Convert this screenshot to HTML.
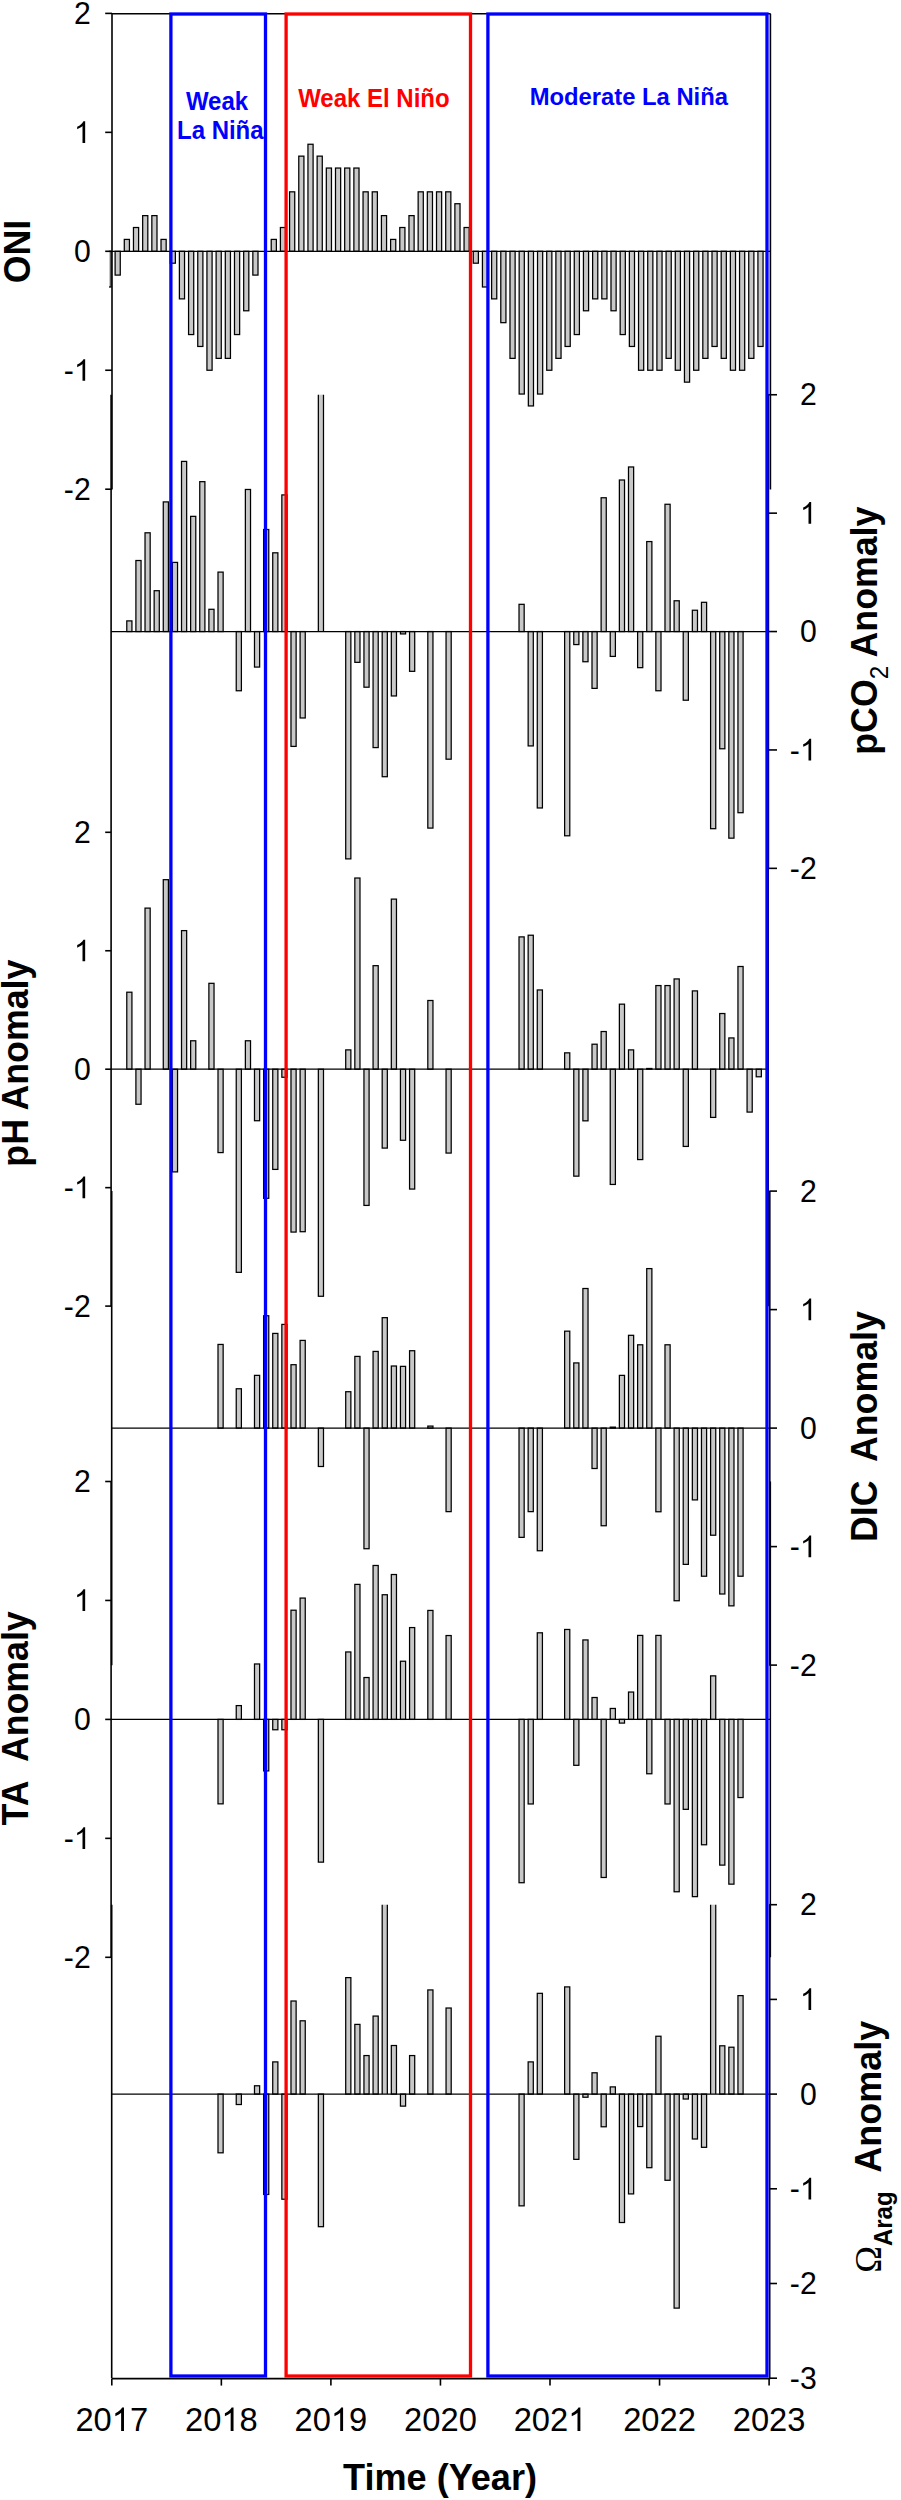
<!DOCTYPE html>
<html><head><meta charset="utf-8"><title>ENSO anomalies</title>
<style>html,body{margin:0;padding:0;background:#fff;}body{width:901px;height:2500px;overflow:hidden;}svg{display:block;}</style>
</head><body>
<svg width="901" height="2500" viewBox="0 0 901 2500">
<rect width="901" height="2500" fill="#fff"/>
<defs><clipPath id="c1"><rect x="109" y="0" width="700" height="2500"/></clipPath></defs>
<g fill="#c8c8c8" stroke="#000" stroke-width="1.25" clip-path="url(#c1)">
<rect x="105.92" y="251.30" width="5.15" height="35.69"/>
<rect x="115.11" y="251.30" width="5.15" height="23.79"/>
<rect x="124.29" y="239.41" width="5.15" height="11.90"/>
<rect x="133.47" y="227.51" width="5.15" height="23.79"/>
<rect x="142.66" y="215.62" width="5.15" height="35.69"/>
<rect x="151.84" y="215.62" width="5.15" height="35.69"/>
<rect x="161.02" y="239.41" width="5.15" height="11.90"/>
<rect x="170.21" y="251.30" width="5.15" height="11.89"/>
<rect x="179.39" y="251.30" width="5.15" height="47.58"/>
<rect x="188.57" y="251.30" width="5.15" height="83.26"/>
<rect x="197.75" y="251.30" width="5.15" height="95.16"/>
<rect x="206.94" y="251.30" width="5.15" height="118.95"/>
<rect x="216.12" y="251.30" width="5.15" height="107.06"/>
<rect x="225.30" y="251.30" width="5.15" height="107.06"/>
<rect x="234.49" y="251.30" width="5.15" height="83.26"/>
<rect x="243.67" y="251.30" width="5.15" height="59.48"/>
<rect x="252.85" y="251.30" width="5.15" height="23.79"/>
<rect x="271.22" y="239.41" width="5.15" height="11.90"/>
<rect x="280.40" y="227.51" width="5.15" height="23.79"/>
<rect x="289.58" y="191.83" width="5.15" height="59.47"/>
<rect x="298.77" y="156.14" width="5.15" height="95.16"/>
<rect x="307.95" y="144.25" width="5.15" height="107.06"/>
<rect x="317.13" y="156.14" width="5.15" height="95.16"/>
<rect x="326.32" y="168.04" width="5.15" height="83.26"/>
<rect x="335.50" y="168.04" width="5.15" height="83.26"/>
<rect x="344.68" y="168.04" width="5.15" height="83.26"/>
<rect x="353.87" y="168.04" width="5.15" height="83.26"/>
<rect x="363.05" y="191.83" width="5.15" height="59.47"/>
<rect x="372.23" y="191.83" width="5.15" height="59.47"/>
<rect x="381.42" y="215.62" width="5.15" height="35.69"/>
<rect x="390.60" y="239.41" width="5.15" height="11.90"/>
<rect x="399.78" y="227.51" width="5.15" height="23.79"/>
<rect x="408.96" y="215.62" width="5.15" height="35.69"/>
<rect x="418.15" y="191.83" width="5.15" height="59.47"/>
<rect x="427.33" y="191.83" width="5.15" height="59.47"/>
<rect x="436.51" y="191.83" width="5.15" height="59.47"/>
<rect x="445.70" y="191.83" width="5.15" height="59.47"/>
<rect x="454.88" y="203.72" width="5.15" height="47.58"/>
<rect x="464.06" y="227.51" width="5.15" height="23.79"/>
<rect x="473.25" y="251.30" width="5.15" height="11.89"/>
<rect x="482.43" y="251.30" width="5.15" height="35.69"/>
<rect x="491.61" y="251.30" width="5.15" height="47.58"/>
<rect x="500.79" y="251.30" width="5.15" height="71.37"/>
<rect x="509.98" y="251.30" width="5.15" height="107.06"/>
<rect x="519.16" y="251.30" width="5.15" height="142.74"/>
<rect x="528.34" y="251.30" width="5.15" height="154.64"/>
<rect x="537.53" y="251.30" width="5.15" height="142.74"/>
<rect x="546.71" y="251.30" width="5.15" height="118.95"/>
<rect x="555.89" y="251.30" width="5.15" height="107.06"/>
<rect x="565.07" y="251.30" width="5.15" height="95.16"/>
<rect x="574.26" y="251.30" width="5.15" height="83.26"/>
<rect x="583.44" y="251.30" width="5.15" height="59.48"/>
<rect x="592.62" y="251.30" width="5.15" height="47.58"/>
<rect x="601.81" y="251.30" width="5.15" height="47.58"/>
<rect x="610.99" y="251.30" width="5.15" height="59.48"/>
<rect x="620.17" y="251.30" width="5.15" height="83.26"/>
<rect x="629.36" y="251.30" width="5.15" height="95.16"/>
<rect x="638.54" y="251.30" width="5.15" height="118.95"/>
<rect x="647.72" y="251.30" width="5.15" height="118.95"/>
<rect x="656.90" y="251.30" width="5.15" height="118.95"/>
<rect x="666.09" y="251.30" width="5.15" height="107.06"/>
<rect x="675.27" y="251.30" width="5.15" height="118.95"/>
<rect x="684.45" y="251.30" width="5.15" height="130.85"/>
<rect x="693.64" y="251.30" width="5.15" height="118.95"/>
<rect x="702.82" y="251.30" width="5.15" height="107.06"/>
<rect x="712.00" y="251.30" width="5.15" height="95.16"/>
<rect x="721.19" y="251.30" width="5.15" height="107.06"/>
<rect x="730.37" y="251.30" width="5.15" height="118.95"/>
<rect x="739.55" y="251.30" width="5.15" height="118.95"/>
<rect x="748.73" y="251.30" width="5.15" height="107.06"/>
<rect x="757.92" y="251.30" width="5.15" height="95.16"/>
</g>
<g fill="#c8c8c8" stroke="#000" stroke-width="1.25">
<rect x="126.78" y="620.89" width="5.15" height="10.66"/>
<rect x="135.90" y="560.51" width="5.15" height="71.04"/>
<rect x="145.02" y="532.80" width="5.15" height="98.75"/>
<rect x="154.15" y="590.70" width="5.15" height="40.85"/>
<rect x="163.27" y="501.90" width="5.15" height="129.65"/>
<rect x="172.39" y="562.40" width="5.15" height="69.15"/>
<rect x="181.51" y="461.41" width="5.15" height="170.14"/>
<rect x="190.63" y="516.35" width="5.15" height="115.20"/>
<rect x="199.75" y="481.66" width="5.15" height="149.89"/>
<rect x="208.88" y="609.29" width="5.15" height="22.26"/>
<rect x="218.00" y="572.11" width="5.15" height="59.44"/>
<rect x="236.24" y="631.55" width="5.15" height="59.20"/>
<rect x="245.37" y="489.47" width="5.15" height="142.08"/>
<rect x="254.49" y="631.55" width="5.15" height="35.52"/>
<rect x="263.61" y="529.49" width="5.15" height="102.06"/>
<rect x="272.73" y="552.81" width="5.15" height="78.74"/>
<rect x="281.85" y="494.92" width="5.15" height="136.63"/>
<rect x="290.98" y="631.55" width="5.15" height="114.85"/>
<rect x="300.10" y="631.55" width="5.15" height="86.43"/>
<rect x="318.34" y="394.70" width="5.15" height="236.85" fill="#c8c8c8" stroke="none"/>
<path d="M318.34 631.55V394.70M323.49 631.55V394.70" stroke="#000" stroke-width="1.25" fill="none"/>
<rect x="345.71" y="631.55" width="5.15" height="227.33"/>
<rect x="354.83" y="631.55" width="5.15" height="30.78"/>
<rect x="363.95" y="631.55" width="5.15" height="55.65"/>
<rect x="373.07" y="631.55" width="5.15" height="116.03"/>
<rect x="382.19" y="631.55" width="5.15" height="145.16"/>
<rect x="391.32" y="631.55" width="5.15" height="64.41"/>
<rect x="400.44" y="631.55" width="5.15" height="2.37"/>
<rect x="409.56" y="631.55" width="5.15" height="39.78"/>
<rect x="427.81" y="631.55" width="5.15" height="196.54"/>
<rect x="446.05" y="631.55" width="5.15" height="127.64"/>
<rect x="519.02" y="604.32" width="5.15" height="27.23"/>
<rect x="528.15" y="631.55" width="5.15" height="114.37"/>
<rect x="537.27" y="631.55" width="5.15" height="176.42"/>
<rect x="564.63" y="631.55" width="5.15" height="204.24"/>
<rect x="573.76" y="631.55" width="5.15" height="13.02"/>
<rect x="582.88" y="631.55" width="5.15" height="30.19"/>
<rect x="592.00" y="631.55" width="5.15" height="56.83"/>
<rect x="601.12" y="497.76" width="5.15" height="133.79"/>
<rect x="610.24" y="631.55" width="5.15" height="24.86"/>
<rect x="619.37" y="480.00" width="5.15" height="151.55"/>
<rect x="628.49" y="466.97" width="5.15" height="164.58"/>
<rect x="637.61" y="631.55" width="5.15" height="36.11"/>
<rect x="646.73" y="541.57" width="5.15" height="89.98"/>
<rect x="655.85" y="631.55" width="5.15" height="59.20"/>
<rect x="664.98" y="504.27" width="5.15" height="127.28"/>
<rect x="674.10" y="600.77" width="5.15" height="30.78"/>
<rect x="683.22" y="631.55" width="5.15" height="68.67"/>
<rect x="692.34" y="610.24" width="5.15" height="21.31"/>
<rect x="701.46" y="602.31" width="5.15" height="29.24"/>
<rect x="710.59" y="631.55" width="5.15" height="197.14"/>
<rect x="719.71" y="631.55" width="5.15" height="117.22"/>
<rect x="728.83" y="631.55" width="5.15" height="206.61"/>
<rect x="737.95" y="631.55" width="5.15" height="181.15"/>
<rect x="126.78" y="992.21" width="5.15" height="76.99"/>
<rect x="135.90" y="1069.20" width="5.15" height="35.06"/>
<rect x="145.02" y="908.11" width="5.15" height="161.09"/>
<rect x="163.27" y="879.68" width="5.15" height="189.52"/>
<rect x="172.39" y="1069.20" width="5.15" height="102.70"/>
<rect x="181.51" y="930.61" width="5.15" height="138.59"/>
<rect x="190.63" y="1040.77" width="5.15" height="28.43"/>
<rect x="208.88" y="983.32" width="5.15" height="85.88"/>
<rect x="218.00" y="1069.20" width="5.15" height="83.39"/>
<rect x="236.24" y="1069.20" width="5.15" height="203.14"/>
<rect x="245.37" y="1040.77" width="5.15" height="28.43"/>
<rect x="254.49" y="1069.20" width="5.15" height="51.53"/>
<rect x="263.61" y="1069.20" width="5.15" height="129.11"/>
<rect x="272.73" y="1069.20" width="5.15" height="100.21"/>
<rect x="281.85" y="1069.20" width="5.15" height="8.05"/>
<rect x="290.98" y="1069.20" width="5.15" height="162.87"/>
<rect x="300.10" y="1069.20" width="5.15" height="162.51"/>
<rect x="318.34" y="1069.20" width="5.15" height="227.07"/>
<rect x="345.71" y="1049.89" width="5.15" height="19.31"/>
<rect x="354.83" y="878.02" width="5.15" height="191.18"/>
<rect x="363.95" y="1069.20" width="5.15" height="136.22"/>
<rect x="373.07" y="965.67" width="5.15" height="103.53"/>
<rect x="382.19" y="1069.20" width="5.15" height="78.89"/>
<rect x="391.32" y="899.11" width="5.15" height="170.09"/>
<rect x="400.44" y="1069.20" width="5.15" height="71.07"/>
<rect x="409.56" y="1069.20" width="5.15" height="119.87"/>
<rect x="427.81" y="1000.50" width="5.15" height="68.70"/>
<rect x="446.05" y="1069.20" width="5.15" height="83.86"/>
<rect x="519.02" y="936.89" width="5.15" height="132.31"/>
<rect x="528.15" y="935.23" width="5.15" height="133.97"/>
<rect x="537.27" y="989.96" width="5.15" height="79.24"/>
<rect x="564.63" y="1052.85" width="5.15" height="16.35"/>
<rect x="573.76" y="1069.20" width="5.15" height="106.96"/>
<rect x="582.88" y="1069.20" width="5.15" height="51.64"/>
<rect x="592.00" y="1044.21" width="5.15" height="24.99"/>
<rect x="601.12" y="1031.53" width="5.15" height="37.67"/>
<rect x="610.24" y="1069.20" width="5.15" height="115.25"/>
<rect x="619.37" y="1004.17" width="5.15" height="65.03"/>
<rect x="628.49" y="1049.89" width="5.15" height="19.31"/>
<rect x="637.61" y="1069.20" width="5.15" height="90.38"/>
<rect x="646.73" y="1068.49" width="5.15" height="0.71"/>
<rect x="655.85" y="985.57" width="5.15" height="83.63"/>
<rect x="664.98" y="985.57" width="5.15" height="83.63"/>
<rect x="674.10" y="978.94" width="5.15" height="90.26"/>
<rect x="683.22" y="1069.20" width="5.15" height="77.23"/>
<rect x="692.34" y="990.90" width="5.15" height="78.30"/>
<rect x="710.59" y="1069.20" width="5.15" height="48.21"/>
<rect x="719.71" y="1013.53" width="5.15" height="55.67"/>
<rect x="728.83" y="1037.93" width="5.15" height="31.27"/>
<rect x="737.95" y="966.50" width="5.15" height="102.70"/>
<rect x="747.07" y="1069.20" width="5.15" height="42.88"/>
<rect x="756.20" y="1069.20" width="5.15" height="7.58"/>
<rect x="218.00" y="1344.44" width="5.15" height="83.66"/>
<rect x="236.24" y="1388.76" width="5.15" height="39.34"/>
<rect x="254.49" y="1375.37" width="5.15" height="52.73"/>
<rect x="263.61" y="1315.76" width="5.15" height="112.34"/>
<rect x="272.73" y="1333.42" width="5.15" height="94.68"/>
<rect x="281.85" y="1324.41" width="5.15" height="103.69"/>
<rect x="290.98" y="1364.70" width="5.15" height="63.40"/>
<rect x="300.10" y="1340.41" width="5.15" height="87.69"/>
<rect x="318.34" y="1428.10" width="5.15" height="38.39"/>
<rect x="345.71" y="1391.72" width="5.15" height="36.38"/>
<rect x="354.83" y="1356.41" width="5.15" height="71.69"/>
<rect x="363.95" y="1428.10" width="5.15" height="120.63"/>
<rect x="373.07" y="1351.43" width="5.15" height="76.67"/>
<rect x="382.19" y="1317.66" width="5.15" height="110.44"/>
<rect x="391.32" y="1366.01" width="5.15" height="62.09"/>
<rect x="400.44" y="1366.36" width="5.15" height="61.74"/>
<rect x="409.56" y="1350.72" width="5.15" height="77.38"/>
<rect x="427.81" y="1426.09" width="5.15" height="2.01"/>
<rect x="446.05" y="1428.10" width="5.15" height="83.54"/>
<rect x="519.02" y="1428.10" width="5.15" height="109.26"/>
<rect x="528.15" y="1428.10" width="5.15" height="83.54"/>
<rect x="537.27" y="1428.10" width="5.15" height="122.65"/>
<rect x="564.63" y="1331.17" width="5.15" height="96.93"/>
<rect x="573.76" y="1362.92" width="5.15" height="65.17"/>
<rect x="582.88" y="1288.51" width="5.15" height="139.59"/>
<rect x="592.00" y="1428.10" width="5.15" height="40.41"/>
<rect x="601.12" y="1428.10" width="5.15" height="97.64"/>
<rect x="610.24" y="1427.15" width="5.15" height="0.95"/>
<rect x="619.37" y="1375.37" width="5.15" height="52.73"/>
<rect x="628.49" y="1335.31" width="5.15" height="92.79"/>
<rect x="637.61" y="1344.79" width="5.15" height="83.31"/>
<rect x="646.73" y="1268.60" width="5.15" height="159.50"/>
<rect x="655.85" y="1428.10" width="5.15" height="83.66"/>
<rect x="664.98" y="1344.79" width="5.15" height="83.31"/>
<rect x="674.10" y="1428.10" width="5.15" height="172.65"/>
<rect x="683.22" y="1428.10" width="5.15" height="136.28"/>
<rect x="692.34" y="1428.10" width="5.15" height="71.81"/>
<rect x="701.46" y="1428.10" width="5.15" height="148.12"/>
<rect x="710.59" y="1428.10" width="5.15" height="107.12"/>
<rect x="719.71" y="1428.10" width="5.15" height="165.90"/>
<rect x="728.83" y="1428.10" width="5.15" height="177.75"/>
<rect x="737.95" y="1428.10" width="5.15" height="148.12"/>
<rect x="218.00" y="1719.40" width="5.15" height="84.45"/>
<rect x="236.24" y="1705.60" width="5.15" height="13.80"/>
<rect x="254.49" y="1663.97" width="5.15" height="55.43"/>
<rect x="263.61" y="1719.40" width="5.15" height="51.51"/>
<rect x="272.73" y="1719.40" width="5.15" height="10.35"/>
<rect x="281.85" y="1719.40" width="5.15" height="10.35"/>
<rect x="290.98" y="1610.20" width="5.15" height="109.20"/>
<rect x="300.10" y="1598.07" width="5.15" height="121.33"/>
<rect x="318.34" y="1719.40" width="5.15" height="142.74"/>
<rect x="345.71" y="1651.96" width="5.15" height="67.44"/>
<rect x="354.83" y="1584.39" width="5.15" height="135.01"/>
<rect x="363.95" y="1677.53" width="5.15" height="41.87"/>
<rect x="373.07" y="1565.48" width="5.15" height="153.92"/>
<rect x="382.19" y="1594.74" width="5.15" height="124.66"/>
<rect x="391.32" y="1574.52" width="5.15" height="144.88"/>
<rect x="400.44" y="1661.23" width="5.15" height="58.17"/>
<rect x="409.56" y="1627.57" width="5.15" height="91.83"/>
<rect x="427.81" y="1610.44" width="5.15" height="108.96"/>
<rect x="446.05" y="1635.54" width="5.15" height="83.86"/>
<rect x="519.02" y="1719.40" width="5.15" height="163.32"/>
<rect x="528.15" y="1719.40" width="5.15" height="84.57"/>
<rect x="537.27" y="1632.80" width="5.15" height="86.60"/>
<rect x="564.63" y="1629.47" width="5.15" height="89.93"/>
<rect x="573.76" y="1719.40" width="5.15" height="45.91"/>
<rect x="582.88" y="1639.94" width="5.15" height="79.46"/>
<rect x="592.00" y="1697.51" width="5.15" height="21.89"/>
<rect x="601.12" y="1719.40" width="5.15" height="158.08"/>
<rect x="610.24" y="1708.46" width="5.15" height="10.94"/>
<rect x="619.37" y="1719.40" width="5.15" height="3.69"/>
<rect x="628.49" y="1692.04" width="5.15" height="27.36"/>
<rect x="637.61" y="1635.42" width="5.15" height="83.98"/>
<rect x="646.73" y="1719.40" width="5.15" height="54.36"/>
<rect x="655.85" y="1635.42" width="5.15" height="83.98"/>
<rect x="664.98" y="1719.40" width="5.15" height="84.57"/>
<rect x="674.10" y="1719.40" width="5.15" height="172.36"/>
<rect x="683.22" y="1719.40" width="5.15" height="89.93"/>
<rect x="692.34" y="1719.40" width="5.15" height="177.24"/>
<rect x="701.46" y="1719.40" width="5.15" height="125.37"/>
<rect x="710.59" y="1675.86" width="5.15" height="43.54"/>
<rect x="719.71" y="1719.40" width="5.15" height="145.71"/>
<rect x="728.83" y="1719.40" width="5.15" height="164.75"/>
<rect x="737.95" y="1719.40" width="5.15" height="78.15"/>
<rect x="218.00" y="2094.10" width="5.15" height="58.71"/>
<rect x="236.24" y="2094.10" width="5.15" height="10.42"/>
<rect x="254.49" y="2085.77" width="5.15" height="8.33"/>
<rect x="263.61" y="2094.10" width="5.15" height="100.38"/>
<rect x="272.73" y="2061.90" width="5.15" height="32.20"/>
<rect x="281.85" y="2094.10" width="5.15" height="105.12"/>
<rect x="290.98" y="2001.01" width="5.15" height="93.09"/>
<rect x="300.10" y="2020.80" width="5.15" height="73.30"/>
<rect x="318.34" y="2094.10" width="5.15" height="132.58"/>
<rect x="345.71" y="1977.62" width="5.15" height="116.48"/>
<rect x="354.83" y="2024.40" width="5.15" height="69.70"/>
<rect x="363.95" y="2055.56" width="5.15" height="38.54"/>
<rect x="373.07" y="2016.07" width="5.15" height="78.03"/>
<rect x="382.19" y="1904.70" width="5.15" height="189.40" fill="#c8c8c8" stroke="none"/>
<path d="M382.19 2094.10V1904.70M387.34 2094.10V1904.70" stroke="#000" stroke-width="1.25" fill="none"/>
<rect x="391.32" y="2045.52" width="5.15" height="48.58"/>
<rect x="400.44" y="2094.10" width="5.15" height="12.03"/>
<rect x="409.56" y="2055.56" width="5.15" height="38.54"/>
<rect x="427.81" y="1989.93" width="5.15" height="104.17"/>
<rect x="446.05" y="2008.02" width="5.15" height="86.08"/>
<rect x="519.02" y="2094.10" width="5.15" height="111.75"/>
<rect x="528.15" y="2061.90" width="5.15" height="32.20"/>
<rect x="537.27" y="1993.34" width="5.15" height="100.76"/>
<rect x="564.63" y="1986.90" width="5.15" height="107.20"/>
<rect x="573.76" y="2094.10" width="5.15" height="65.25"/>
<rect x="582.88" y="2094.10" width="5.15" height="3.13"/>
<rect x="592.00" y="2072.79" width="5.15" height="21.31"/>
<rect x="601.12" y="2094.10" width="5.15" height="32.67"/>
<rect x="610.24" y="2086.90" width="5.15" height="7.20"/>
<rect x="619.37" y="2094.10" width="5.15" height="128.41"/>
<rect x="628.49" y="2094.10" width="5.15" height="99.81"/>
<rect x="637.61" y="2094.10" width="5.15" height="32.48"/>
<rect x="646.73" y="2094.10" width="5.15" height="73.58"/>
<rect x="655.85" y="2036.24" width="5.15" height="57.86"/>
<rect x="664.98" y="2094.10" width="5.15" height="86.18"/>
<rect x="674.10" y="2094.10" width="5.15" height="214.02"/>
<rect x="683.22" y="2094.10" width="5.15" height="4.92"/>
<rect x="692.34" y="2094.10" width="5.15" height="44.89"/>
<rect x="701.46" y="2094.10" width="5.15" height="53.22"/>
<rect x="710.59" y="1904.70" width="5.15" height="189.40" fill="#c8c8c8" stroke="none"/>
<path d="M710.59 2094.10V1904.70M715.74 2094.10V1904.70" stroke="#000" stroke-width="1.25" fill="none"/>
<rect x="719.71" y="2045.80" width="5.15" height="48.30"/>
<rect x="728.83" y="2047.22" width="5.15" height="46.88"/>
<rect x="737.95" y="1995.61" width="5.15" height="98.49"/>
</g>
<g stroke="#000" stroke-width="1.6" fill="none">
<path d="M112.0 13.7V489.5"/>
<path d="M770.4 13.7V489.5"/>
<path d="M112.0 251.3H770.4" stroke-width="1.2"/>
<path d="M105.2 13.40H112.0"/>
<path d="M105.2 132.35H112.0"/>
<path d="M105.2 251.30H112.0"/>
<path d="M105.2 370.25H112.0"/>
<path d="M105.2 489.20H112.0"/>
<path d="M111.1 394.7V1306.2"/>
<path d="M768.4 394.7V868.4"/>
<path d="M111.1 631.55H768.4" stroke-width="1.2"/>
<path d="M767.9 394.75H777"/>
<path d="M767.9 513.15H777"/>
<path d="M767.9 631.55H777"/>
<path d="M767.9 749.95H777"/>
<path d="M767.9 868.35H777"/>
<path d="M768.2 832.4V1306.2"/>
<path d="M111.1 1069.2H768.2" stroke-width="1.2"/>
<path d="M105.2 832.30H111.1"/>
<path d="M105.2 950.75H111.1"/>
<path d="M105.2 1069.20H111.1"/>
<path d="M105.2 1187.65H111.1"/>
<path d="M105.2 1306.10H111.1"/>
<path d="M111.7 1191.0V1665.2"/>
<path d="M769.8 1191.0V1665.2"/>
<path d="M111.7 1428.1H769.8" stroke-width="1.2"/>
<path d="M769.3 1191.10H777"/>
<path d="M769.3 1309.60H777"/>
<path d="M769.3 1428.10H777"/>
<path d="M769.3 1546.60H777"/>
<path d="M769.3 1665.10H777"/>
<path d="M111.1 1481.6V1957.2"/>
<path d="M770.3 1481.6V1957.2"/>
<path d="M111.1 1719.4H770.3" stroke-width="1.2"/>
<path d="M105.2 1481.50H111.1"/>
<path d="M105.2 1600.45H111.1"/>
<path d="M105.2 1719.40H111.1"/>
<path d="M105.2 1838.35H111.1"/>
<path d="M105.2 1957.30H111.1"/>
<path d="M111.7 1904.7V2378.2"/>
<path d="M769.7 1904.7V2378.2"/>
<path d="M111.7 2094.1H769.7" stroke-width="1.2"/>
<path d="M769.2 1904.70H777"/>
<path d="M769.2 1999.40H777"/>
<path d="M769.2 2094.10H777"/>
<path d="M769.2 2188.80H777"/>
<path d="M769.2 2283.50H777"/>
<path d="M769.2 2378.20H777"/>
<path d="M112.0 13.7H770.6"/>
<path d="M112.0 2378.6H770.2"/>
<path d="M111.80 2378.6V2385.6"/>
<path d="M221.35 2378.6V2385.6"/>
<path d="M330.90 2378.6V2385.6"/>
<path d="M440.45 2378.6V2385.6"/>
<path d="M550.00 2378.6V2385.6"/>
<path d="M659.55 2378.6V2385.6"/>
<path d="M769.10 2378.6V2385.6"/>
</g>
<g fill="none" stroke-width="3.3">
<rect x="170.9" y="14" width="94.6" height="2362" stroke="#0000ff"/>
<rect x="286.1" y="14" width="184.4" height="2362" stroke="#ff0000"/>
<rect x="487.9" y="14" width="279.1" height="2362" stroke="#0000ff"/>
</g>
<g font-family="Liberation Sans, sans-serif" font-size="30.2" fill="#000">
<g transform="translate(73.91 24.00)"><text transform="translate(0.00 0) scale(1 1.02)">2</text></g>
<g transform="translate(73.91 142.95)"><path transform="translate(0.00 0) scale(0.01475 -0.01475)" d="M763 0L583 0L583 1147Q518 1085 412 1023Q306 961 222 930L222 1104Q373 1175 486 1276Q599 1377 646 1472L763 1472Z"/></g>
<g transform="translate(73.91 261.90)"><text transform="translate(0.00 0) scale(1 1.02)">0</text></g>
<g transform="translate(63.85 380.85)"><text transform="translate(0.00 0) scale(1 1.02)">-</text><path transform="translate(10.06 0) scale(0.01475 -0.01475)" d="M763 0L583 0L583 1147Q518 1085 412 1023Q306 961 222 930L222 1104Q373 1175 486 1276Q599 1377 646 1472L763 1472Z"/></g>
<g transform="translate(63.85 499.80)"><text transform="translate(0.00 0) scale(1 1.02)">-</text><text transform="translate(10.06 0) scale(1 1.02)">2</text></g>
<g transform="translate(799.91 405.35)"><text transform="translate(0.00 0) scale(1 1.02)">2</text></g>
<g transform="translate(799.91 523.75)"><path transform="translate(0.00 0) scale(0.01475 -0.01475)" d="M763 0L583 0L583 1147Q518 1085 412 1023Q306 961 222 930L222 1104Q373 1175 486 1276Q599 1377 646 1472L763 1472Z"/></g>
<g transform="translate(799.91 642.15)"><text transform="translate(0.00 0) scale(1 1.02)">0</text></g>
<g transform="translate(789.85 760.55)"><text transform="translate(0.00 0) scale(1 1.02)">-</text><path transform="translate(10.06 0) scale(0.01475 -0.01475)" d="M763 0L583 0L583 1147Q518 1085 412 1023Q306 961 222 930L222 1104Q373 1175 486 1276Q599 1377 646 1472L763 1472Z"/></g>
<g transform="translate(789.85 878.95)"><text transform="translate(0.00 0) scale(1 1.02)">-</text><text transform="translate(10.06 0) scale(1 1.02)">2</text></g>
<g transform="translate(73.91 842.90)"><text transform="translate(0.00 0) scale(1 1.02)">2</text></g>
<g transform="translate(73.91 961.35)"><path transform="translate(0.00 0) scale(0.01475 -0.01475)" d="M763 0L583 0L583 1147Q518 1085 412 1023Q306 961 222 930L222 1104Q373 1175 486 1276Q599 1377 646 1472L763 1472Z"/></g>
<g transform="translate(73.91 1079.80)"><text transform="translate(0.00 0) scale(1 1.02)">0</text></g>
<g transform="translate(63.85 1198.25)"><text transform="translate(0.00 0) scale(1 1.02)">-</text><path transform="translate(10.06 0) scale(0.01475 -0.01475)" d="M763 0L583 0L583 1147Q518 1085 412 1023Q306 961 222 930L222 1104Q373 1175 486 1276Q599 1377 646 1472L763 1472Z"/></g>
<g transform="translate(63.85 1316.70)"><text transform="translate(0.00 0) scale(1 1.02)">-</text><text transform="translate(10.06 0) scale(1 1.02)">2</text></g>
<g transform="translate(799.91 1201.70)"><text transform="translate(0.00 0) scale(1 1.02)">2</text></g>
<g transform="translate(799.91 1320.20)"><path transform="translate(0.00 0) scale(0.01475 -0.01475)" d="M763 0L583 0L583 1147Q518 1085 412 1023Q306 961 222 930L222 1104Q373 1175 486 1276Q599 1377 646 1472L763 1472Z"/></g>
<g transform="translate(799.91 1438.70)"><text transform="translate(0.00 0) scale(1 1.02)">0</text></g>
<g transform="translate(789.85 1557.20)"><text transform="translate(0.00 0) scale(1 1.02)">-</text><path transform="translate(10.06 0) scale(0.01475 -0.01475)" d="M763 0L583 0L583 1147Q518 1085 412 1023Q306 961 222 930L222 1104Q373 1175 486 1276Q599 1377 646 1472L763 1472Z"/></g>
<g transform="translate(789.85 1675.70)"><text transform="translate(0.00 0) scale(1 1.02)">-</text><text transform="translate(10.06 0) scale(1 1.02)">2</text></g>
<g transform="translate(73.91 1492.10)"><text transform="translate(0.00 0) scale(1 1.02)">2</text></g>
<g transform="translate(73.91 1611.05)"><path transform="translate(0.00 0) scale(0.01475 -0.01475)" d="M763 0L583 0L583 1147Q518 1085 412 1023Q306 961 222 930L222 1104Q373 1175 486 1276Q599 1377 646 1472L763 1472Z"/></g>
<g transform="translate(73.91 1730.00)"><text transform="translate(0.00 0) scale(1 1.02)">0</text></g>
<g transform="translate(63.85 1848.95)"><text transform="translate(0.00 0) scale(1 1.02)">-</text><path transform="translate(10.06 0) scale(0.01475 -0.01475)" d="M763 0L583 0L583 1147Q518 1085 412 1023Q306 961 222 930L222 1104Q373 1175 486 1276Q599 1377 646 1472L763 1472Z"/></g>
<g transform="translate(63.85 1967.90)"><text transform="translate(0.00 0) scale(1 1.02)">-</text><text transform="translate(10.06 0) scale(1 1.02)">2</text></g>
<g transform="translate(799.91 1915.30)"><text transform="translate(0.00 0) scale(1 1.02)">2</text></g>
<g transform="translate(799.91 2010.00)"><path transform="translate(0.00 0) scale(0.01475 -0.01475)" d="M763 0L583 0L583 1147Q518 1085 412 1023Q306 961 222 930L222 1104Q373 1175 486 1276Q599 1377 646 1472L763 1472Z"/></g>
<g transform="translate(799.91 2104.70)"><text transform="translate(0.00 0) scale(1 1.02)">0</text></g>
<g transform="translate(789.85 2199.40)"><text transform="translate(0.00 0) scale(1 1.02)">-</text><path transform="translate(10.06 0) scale(0.01475 -0.01475)" d="M763 0L583 0L583 1147Q518 1085 412 1023Q306 961 222 930L222 1104Q373 1175 486 1276Q599 1377 646 1472L763 1472Z"/></g>
<g transform="translate(789.85 2294.10)"><text transform="translate(0.00 0) scale(1 1.02)">-</text><text transform="translate(10.06 0) scale(1 1.02)">2</text></g>
<g transform="translate(789.85 2388.80)"><text transform="translate(0.00 0) scale(1 1.02)">-</text><text transform="translate(10.06 0) scale(1 1.02)">3</text></g>
</g>
<g font-family="Liberation Sans, sans-serif" font-size="32.7" fill="#000">
<g transform="translate(75.44 2431.00)"><text transform="translate(0.00 0) scale(1 1.035)">2</text><text transform="translate(18.18 0) scale(1 1.035)">0</text><path transform="translate(36.36 0) scale(0.01597 -0.01597)" d="M763 0L583 0L583 1147Q518 1085 412 1023Q306 961 222 930L222 1104Q373 1175 486 1276Q599 1377 646 1472L763 1472Z"/><text transform="translate(54.54 0) scale(1 1.035)">7</text></g>
<g transform="translate(184.99 2431.00)"><text transform="translate(0.00 0) scale(1 1.035)">2</text><text transform="translate(18.18 0) scale(1 1.035)">0</text><path transform="translate(36.36 0) scale(0.01597 -0.01597)" d="M763 0L583 0L583 1147Q518 1085 412 1023Q306 961 222 930L222 1104Q373 1175 486 1276Q599 1377 646 1472L763 1472Z"/><text transform="translate(54.54 0) scale(1 1.035)">8</text></g>
<g transform="translate(294.54 2431.00)"><text transform="translate(0.00 0) scale(1 1.035)">2</text><text transform="translate(18.18 0) scale(1 1.035)">0</text><path transform="translate(36.36 0) scale(0.01597 -0.01597)" d="M763 0L583 0L583 1147Q518 1085 412 1023Q306 961 222 930L222 1104Q373 1175 486 1276Q599 1377 646 1472L763 1472Z"/><text transform="translate(54.54 0) scale(1 1.035)">9</text></g>
<g transform="translate(404.09 2431.00)"><text transform="translate(0.00 0) scale(1 1.035)">2</text><text transform="translate(18.18 0) scale(1 1.035)">0</text><text transform="translate(36.36 0) scale(1 1.035)">2</text><text transform="translate(54.54 0) scale(1 1.035)">0</text></g>
<g transform="translate(513.64 2431.00)"><text transform="translate(0.00 0) scale(1 1.035)">2</text><text transform="translate(18.18 0) scale(1 1.035)">0</text><text transform="translate(36.36 0) scale(1 1.035)">2</text><path transform="translate(54.54 0) scale(0.01597 -0.01597)" d="M763 0L583 0L583 1147Q518 1085 412 1023Q306 961 222 930L222 1104Q373 1175 486 1276Q599 1377 646 1472L763 1472Z"/></g>
<g transform="translate(623.19 2431.00)"><text transform="translate(0.00 0) scale(1 1.035)">2</text><text transform="translate(18.18 0) scale(1 1.035)">0</text><text transform="translate(36.36 0) scale(1 1.035)">2</text><text transform="translate(54.54 0) scale(1 1.035)">2</text></g>
<g transform="translate(732.74 2431.00)"><text transform="translate(0.00 0) scale(1 1.035)">2</text><text transform="translate(18.18 0) scale(1 1.035)">0</text><text transform="translate(36.36 0) scale(1 1.035)">2</text><text transform="translate(54.54 0) scale(1 1.035)">3</text></g>
</g>
<text font-family="Liberation Sans, sans-serif" font-weight="bold" font-size="36.1" text-anchor="middle" transform="translate(440 2490) scale(1 1.04)">Time (Year)</text>
<text font-family="Liberation Sans, sans-serif" font-weight="bold" font-size="35.7" text-anchor="middle" transform="translate(30.1 251.5) rotate(-90) scale(1 1.04)" >ONI</text>
<text font-family="Liberation Sans, sans-serif" font-weight="bold" font-size="35.7" text-anchor="middle" transform="translate(28.4 1063.2) rotate(-90) scale(1 1.04)" >pH Anomaly</text>
<text font-family="Liberation Sans, sans-serif" font-weight="bold" font-size="35.7" text-anchor="middle" transform="translate(28.2 1718.4) rotate(-90) scale(1 1.04)" >TA&#160; Anomaly</text>
<text font-family="Liberation Sans, sans-serif" font-weight="bold" font-size="35.7" text-anchor="middle" transform="translate(877.0 1426.6) rotate(-90) scale(1 1.04)" >DIC&#160; Anomaly</text>
<text font-family="Liberation Sans, sans-serif" font-weight="bold" font-size="35.7" text-anchor="middle" transform="translate(876.6 630.7) rotate(-90) scale(1 1.04)">pCO<tspan font-size="24" font-weight="normal" dy="11.3">2</tspan><tspan dy="-11.3"> Anomaly</tspan></text>
<text font-family="Liberation Sans, sans-serif" font-weight="bold" font-size="36" transform="translate(880.5 2272.8) rotate(-90) scale(1 1.04)"><tspan font-family="Liberation Serif, serif" font-weight="normal">&#937;</tspan><tspan font-size="24" dy="11">Arag</tspan><tspan dy="-11">&#160; Anomaly</tspan></text>
<text font-family="Liberation Sans, sans-serif" font-weight="bold" font-size="24.0" text-anchor="middle" fill="#0000ff" transform="translate(217 110.4) scale(1 1.04)">Weak</text>
<text font-family="Liberation Sans, sans-serif" font-weight="bold" font-size="24.0" text-anchor="middle" fill="#0000ff" transform="translate(220.3 139.3) scale(1 1.04)">La Ni&#241;a</text>
<text font-family="Liberation Sans, sans-serif" font-weight="bold" font-size="24.0" text-anchor="middle" fill="#ff0000" transform="translate(373.9 107) scale(1 1.04)">Weak El Ni&#241;o</text>
<text font-family="Liberation Sans, sans-serif" font-weight="bold" font-size="23.8" text-anchor="middle" fill="#0000ff" transform="translate(628.8 105.2) scale(1 1.04)">Moderate La Ni&#241;a</text>
</svg>
</body></html>
